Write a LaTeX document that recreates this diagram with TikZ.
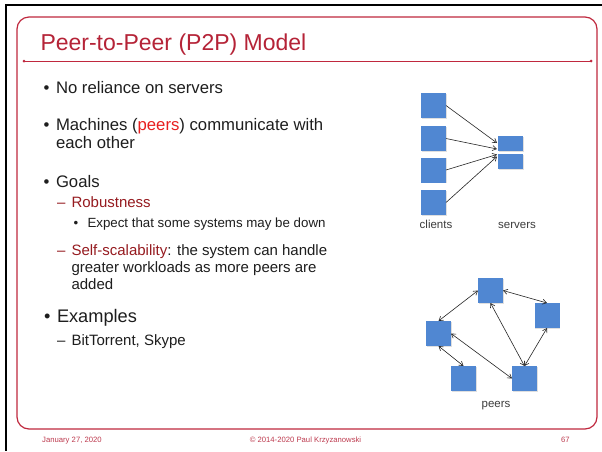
\documentclass[tikz,border=0pt]{standalone}
\usepackage{fontspec}
\setmainfont{Liberation Sans}
\usetikzlibrary{arrows.meta,shadows}
\definecolor{framecol}{RGB}{192,40,62}
\definecolor{ttlcol}{RGB}{181,35,55}
\definecolor{dredcol}{RGB}{150,27,32}
\definecolor{bredcol}{RGB}{232,30,30}
\definecolor{sqcol}{RGB}{80,135,210}
\definecolor{bodycol}{RGB}{30,30,30}
\definecolor{footcol}{RGB}{190,60,80}
\definecolor{lblcol}{RGB}{60,60,60}
\begin{document}
\begin{tikzpicture}[x=1pt,y=-1pt,
 txt/.style={anchor=base west,inner sep=0pt,outer sep=0pt,text=bodycol},
 lone/.style={txt,font=\fontsize{16.7}{19}\selectfont},
 ltwo/.style={txt,font=\fontsize{15}{17}\selectfont},
 lthree/.style={txt,font=\fontsize{13.3}{15}\selectfont},
 lbig/.style={txt,font=\fontsize{18.2}{21}\selectfont},
 footer/.style={inner sep=0pt,text=footcol,font=\fontsize{7.7}{9}\selectfont},
 box/.style={fill=sqcol,draw=none,inner sep=0pt,outer sep=0pt,drop shadow={shadow xshift=0.6pt,shadow yshift=-0.8pt,opacity=0.25}},
 csq/.style={box,minimum width=25pt,minimum height=25pt},
 ssq/.style={box,minimum width=25pt,minimum height=15pt},
 lnk/.style={line width=0.6pt,draw=black!85,-{Straight Barb[length=4pt,width=5pt]}},
 blnk/.style={line width=0.6pt,draw=black!85,{Straight Barb[length=4pt,width=5pt]}-{Straight Barb[length=4pt,width=5pt]}},
 lbl/.style={inner sep=0pt,anchor=base,text=lblcol,font=\fontsize{11.5}{13}\selectfont},
]
\useasboundingbox (0,0) rectangle (602,451);
\fill[white] (0,0) rectangle (602,451);
% black page edges
\draw[line width=2pt,black] (5,5) -- (602,5);
\draw[line width=2pt,black] (6,4) -- (6,451);
% red frame
\draw[framecol,line width=1.2pt,rounded corners=12pt] (17,17) rectangle (597,429);
% title
\node[txt,text=ttlcol,font=\fontsize{23}{27}\selectfont] (title) at (40.5,50) {Peer-to-Peer (P2P) Model};
\draw[framecol,line width=0.8pt] (24,61) -- (591,61);
\fill[framecol] (24,61) circle (1.5pt) (591,61) circle (1.5pt);
% bullets
\node[lone] (b1) at (43.5,93) {•};
\node[lone] (t1) at (56,93) {No reliance on servers};
\node[lone] (b2) at (43.5,130) {•};
\node[lone] (t2) at (56,130) {Machines (\textcolor{bredcol}{peers}) communicate with};
\node[lone] (t2b) at (56,148) {each other};
\node[lone] (b3) at (43.5,187) {•};
\node[lone] (t3) at (56,187) {Goals};
\node[ltwo,text=dredcol] (d1) at (57,207) {–};
\node[ltwo,text=dredcol] (t4) at (71.5,207) {Robustness};
\node[lthree] (b4) at (73.5,227) {•};
\node[lthree] (t5) at (87.5,227) {Expect that some systems may be down};
\node[ltwo,text=dredcol] (d2) at (57,255) {–};
\node[ltwo] (t6) at (71.5,255) {\textcolor{dredcol}{Self-scalability}: the system can handle};
\node[ltwo] (t6b) at (71.5,272) {greater workloads as more peers are};
\node[ltwo] (t6c) at (71.5,289) {added};
\node[lbig] (b5) at (44,322) {•};
\node[lbig] (t7) at (57,322) {Examples};
\node[ltwo] (d3) at (57,345) {–};
\node[ltwo] (t8) at (71.5,345) {BitTorrent, Skype};
% client-server diagram
\node[csq] (c1) at (433.5,105.5) {};
\node[csq] (c2) at (433.5,138.5) {};
\node[csq] (c3) at (433.5,170) {};
\node[csq] (c4) at (433.5,202.5) {};
\node[ssq] (s1) at (510.5,143.5) {};
\node[ssq] (s2) at (510.5,161.5) {};
\coordinate (e1) at (497,143);
\coordinate (e2) at (497,149);
\coordinate (e3) at (497,154.5);
\coordinate (e4) at (497,156.5);
\draw[lnk] (c1.east) -- (e1);
\draw[lnk] (c2.east) -- (e2);
\draw[lnk] (c3.east) -- (e3);
\draw[lnk] (c4.east) -- (e4);
\node[lbl] (lc) at (436,228.5) {clients};
\node[lbl] (ls) at (517,228.5) {servers};
% peer diagram
\node[csq] (pa) at (490.5,290.5) {};
\node[csq] (pb) at (547,315.5) {};
\node[csq] (pc) at (438.5,333.5) {};
\node[csq] (pd) at (463.5,378.5) {};
\node[csq] (pe) at (524.5,378.5) {};
\draw[blnk] (pc.north) -- (pa.west);
\draw[blnk] (pa.east) -- (pb.north);
\draw[blnk] (pa.south) -- (pe.north);
\draw[blnk] (pb.south) -- (pe.north);
\draw[blnk] (pc.east) -- (pe.west);
\draw[blnk] (pc.south) -- (pd.north);
\node[lbl] (lp) at (496,407) {peers};
% footer
\node[footer,anchor=base west] (f1) at (42,442) {January 27, 2020};
\node[footer,anchor=base] (f2) at (305.5,442) {© 2014-2020 Paul Krzyzanowski};
\node[footer,anchor=base west] (f3) at (561,442) {67};
\end{tikzpicture}
\end{document}
